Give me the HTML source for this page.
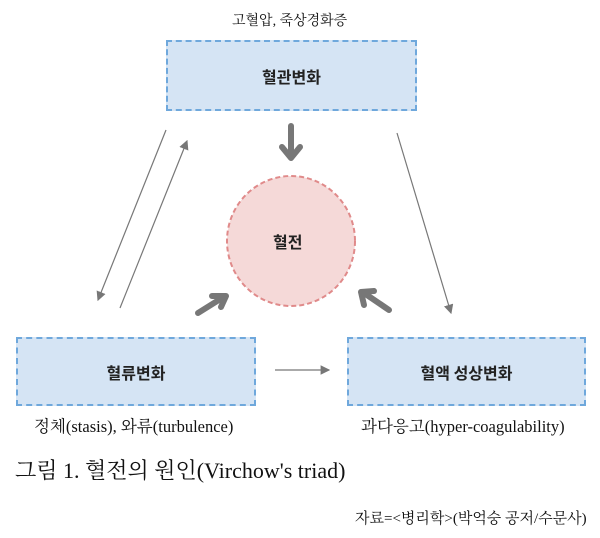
<!DOCTYPE html><html><head><meta charset="utf-8"><style>
body{margin:0;width:600px;height:538px;background:#fff;position:relative;font-family:"Liberation Serif","Noto Serif CJK SC","Noto Sans CJK KR",serif;color:#111;overflow:hidden}
.t{position:absolute;white-space:nowrap}
.b{position:absolute;background:#d5e4f4;border:2px dashed #6fa8dc;box-sizing:border-box;display:flex;align-items:center;justify-content:center;font-family:"Noto Sans CJK KR",sans-serif;font-size:16px;font-weight:bold;color:#222}
</style></head><body>
<div class="t" style="left:232px;top:10px;font-size:14px">고혈압, 죽상경화증</div>
<div class="b" style="left:166px;top:40px;width:251px;height:71px">혈관변화</div>
<div class="b" style="left:16px;top:337px;width:240px;height:69px">혈류변화</div>
<div class="b" style="left:347px;top:337px;width:239px;height:69px">혈액 성상변화</div>
<svg style="position:absolute;left:0;top:0" width="600" height="538">
<defs><marker id="a" markerWidth="8" markerHeight="8" refX="7" refY="4" orient="auto"><path d="M0,0 L8,4 L0,8 Z" fill="#777"/></marker></defs>
<ellipse cx="291" cy="241" rx="64" ry="65" fill="#f5d9d8" stroke="#e08a8a" stroke-width="2" stroke-dasharray="5,3"/>
<g stroke="#777" stroke-width="1.2" fill="none">
<line x1="166" y1="130" x2="98" y2="300" marker-end="url(#a)"/>
<line x1="120" y1="308" x2="187" y2="141" marker-end="url(#a)"/>
<line x1="397" y1="133" x2="451" y2="313" marker-end="url(#a)"/>
<line x1="275" y1="370" x2="329" y2="370" marker-end="url(#a)"/>
</g>
<g stroke="#777" stroke-width="6" fill="none" stroke-linecap="round" stroke-linejoin="round">
<line x1="291" y1="126" x2="291" y2="155"/><path d="M282,147 L291,158 L300,147"/>
<line x1="198" y1="313" x2="222" y2="298"/><path d="M212,296 L226,296 L221,307"/>
<line x1="389" y1="310" x2="364" y2="293"/><path d="M374,291 L361,292 L364,305"/>
</g>
</svg>
<div class="t" style="left:273px;top:229px;font-family:'Noto Sans CJK KR',sans-serif;font-size:16px;font-weight:bold;color:#222">혈전</div>
<div class="t" style="left:34px;top:413px;font-size:16.5px">정체(stasis), 와류(turbulence)</div>
<div class="t" style="left:361px;top:413px;font-size:16.5px">과다응고(hyper-coagulability)</div>
<div class="t" style="left:15px;top:454px;font-size:22px">그림 1. 혈전의 원인(Virchow's triad)</div>
<div class="t" style="left:355px;top:507px;font-size:15px">자료=&lt;병리학&gt;(박억숭 공저/수문사)</div>
</body></html>
